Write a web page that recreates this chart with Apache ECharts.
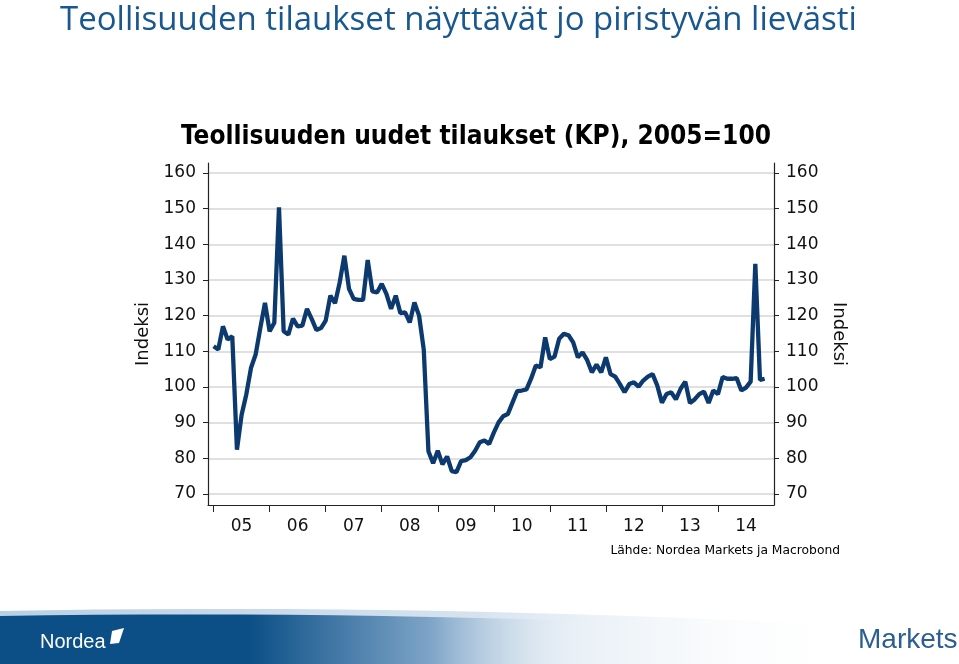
<!DOCTYPE html>
<html>
<head>
<meta charset="utf-8">
<title>Teollisuuden tilaukset</title>
<script src="https://cdn.jsdelivr.net/npm/echarts@6/dist/echarts.min.js"></script>
<style>
html,body{margin:0;padding:0;background:#fff;}
#demo{width:959px;height:664px;}
</style>
</head>
<body>
<div id="demo"></div>
<script>
// kuukausittaiset arvot, tammikuu 2005 -> marraskuu 2014
var startYear = 2005;
var values = [
    111.4, 110.5, 117.0, 113.3, 114.2, 82.4, 92.2, 97.9, 105.3, 109.1, 116.5, 123.6,
    115.6, 118.0, 150.4, 115.6, 114.7, 119.2, 117.0, 117.2, 121.9, 119.1, 116.0, 116.5,
    118.6, 125.6, 123.5, 129.3, 136.8, 127.5, 124.7, 124.4, 124.4, 135.6, 126.8, 126.5,
    128.9, 126.1, 121.9, 125.6, 120.7, 120.9, 118.1, 123.7, 120.0, 110.5, 82.0, 78.6,
    82.1, 78.3, 80.5, 76.4, 76.1, 79.2, 79.5, 80.3, 82.1, 84.5, 85.0, 84.0,
    87.2, 90.0, 91.8, 92.4, 95.6, 98.8, 99.0, 99.3, 102.4, 106.0, 105.5, 113.9,
    107.8, 108.5, 113.5, 114.9, 114.5, 112.5, 108.3, 109.7, 107.5, 104.1, 106.3, 104.1,
    108.3, 103.6, 102.9, 100.8, 98.5, 100.8, 101.3, 100.1, 101.8, 102.9, 103.6, 100.4,
    95.6, 98.0, 98.5, 96.5, 99.5, 101.5, 95.5, 96.5, 98.0, 98.7, 95.5, 99.0,
    98.0, 102.8, 102.3, 102.3, 102.5, 99.0, 99.8, 101.5, 134.5, 102.0, 102.3
];
var yearTicks = [2005, 2006, 2007, 2008, 2009, 2010, 2011, 2012, 2013, 2014];
var yearLabels = ['05', '06', '07', '08', '09', '10', '11', '12', '13', '14'];
var yTicks = [70, 80, 90, 100, 110, 120, 130, 140, 150, 160];

var points = [];
for (var i = 0; i < values.length; i++) {
    points.push([startYear + i / 12, values[i]]);
}
// vuosien nimet keskelle vuotta
var labelPos = [];
for (var k = 0; k < yearTicks.length; k++) {
    labelPos.push(yearTicks[k] + 0.5);
}

var chartDom = document.getElementById('demo');
var myChart = echarts.init(chartDom);
var option;

var axisFont = 'DejaVu Sans';

function yAxisDef(pos) {
    return {
        type: 'value',
        position: pos,
        min: 66.9,
        max: 162.8,
        name: 'Indeksi',
        nameLocation: 'middle',
        nameGap: pos == 'left' ? 47 : 44,
        nameRotate: pos == 'left' ? 90 : -90,
        nameTextStyle: { fontFamily: axisFont, fontSize: 18, color: '#111' },
        axisLine: { show: true, lineStyle: { color: '#222', width: 1.2 } },
        axisTick: { show: true, length: 5, customValues: yTicks, lineStyle: { color: '#222' } },
        axisLabel: {
            customValues: yTicks,
            margin: 12,
            fontFamily: axisFont,
            fontSize: 17,
            color: '#111'
        },
        splitLine: {
            show: pos == 'left',
            lineStyle: { color: '#d6d6d6', width: 1.5 }
        }
    };
}

function hGrad(stops) {
    return { type: 'linear', x: 0, y: 0, x2: 1, y2: 0, colorStops: stops };
}

// kaareva yläreuna nauhalle (pelkkää koristetta)
function bandShape(y0, yMid, y1) {
    var pts = [];
    for (var s = 0; s <= 20; s++) {
        var t = s / 20;
        var x = 959 * t;
        var y = (1 - t) * (1 - t) * y0 + 2 * (1 - t) * t * yMid + t * t * y1;
        pts.push([x, y]);
    }
    pts.push([959, 664]);
    pts.push([0, 664]);
    return pts;
}

option = {
    backgroundColor: '#fff',
    animation: false,
    grid: { left: 208, right: 185, top: 163, bottom: 159 },
    xAxis: {
        type: 'value',
        min: 2004.9,
        max: 2015,
        axisLine: { show: true, lineStyle: { color: '#222', width: 1.2 } },
        axisTick: { show: true, length: 7, customValues: yearTicks, lineStyle: { color: '#222' } },
        axisLabel: {
            customValues: labelPos,
            margin: 13,
            fontFamily: axisFont,
            fontSize: 17,
            color: '#111',
            formatter: function (v) {
                return yearLabels[Math.round(v - 0.5) - startYear];
            }
        },
        splitLine: { show: false }
    },
    yAxis: [yAxisDef('left'), yAxisDef('right')],
    series: [
        {
            name: 'Teollisuuden uudet tilaukset',
            type: 'line',
            data: points,
            showSymbol: false,
            lineStyle: { color: '#0c3a6e', width: 4.3 }
        }
    ],
    graphic: [
        {
            type: 'text', x: 60, y: 21,
            style: {
                text: 'Teollisuuden tilaukset näyttävät jo piristyvän lievästi',
                font: '33px "Open Sans"', fill: '#18588f',
                textVerticalAlign: 'middle'
            }
        },
        {
            type: 'text', x: 476, y: 137,
            style: {
                text: 'Teollisuuden uudet tilaukset (KP), 2005=100',
                font: 'bold 26px "DejaVu Sans Condensed"', fill: '#000',
                textAlign: 'center', textVerticalAlign: 'middle'
            }
        },
        {
            type: 'text', x: 840, y: 551,
            style: {
                text: 'Lähde: Nordea Markets ja Macrobond',
                font: '12.3px "DejaVu Sans"', fill: '#000',
                textAlign: 'right', textVerticalAlign: 'middle'
            }
        },
        // alareunan sininen nauha
        {
            type: 'polygon', z: -1,
            shape: { points: bandShape(611, 602, 632) },
            style: {
                fill: hGrad([
                    { offset: 0, color: '#b9d0e4' },
                    { offset: 0.5, color: '#d6e3ef' },
                    { offset: 0.9, color: 'rgba(255,255,255,0)' }
                ])
            }
        },
        {
            type: 'polygon', z: -1,
            shape: { points: bandShape(616, 608, 640) },
            style: {
                fill: hGrad([
                    { offset: 0, color: '#0b4f86' },
                    { offset: 0.26, color: '#0b4f86' },
                    { offset: 0.45, color: '#7fa5c8' },
                    { offset: 0.62, color: 'rgba(255,255,255,0)' }
                ])
            }
        },
        {
            type: 'text', x: 40, y: 642,
            style: {
                text: 'Nordea', font: '20px "Liberation Sans"', fill: '#fff',
                textVerticalAlign: 'middle'
            }
        },
        {
            type: 'polygon',
            shape: { points: [[112, 631], [124, 628], [119, 643], [110, 644]] },
            style: { fill: '#fff' }
        },
        {
            type: 'text', x: 858, y: 640,
            style: {
                text: 'Markets', font: '28px "Liberation Sans"', fill: '#2b5f93',
                textVerticalAlign: 'middle'
            }
        }
    ]
};
option && myChart.setOption(option);
</script>
</body>
</html>
